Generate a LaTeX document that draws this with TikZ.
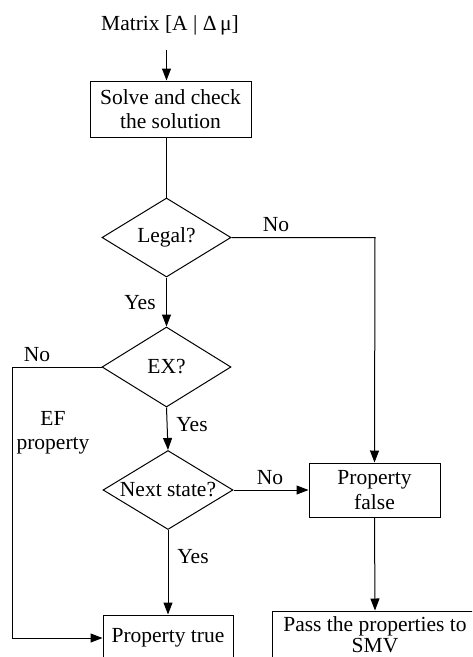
\documentclass[tikz,border=0pt]{standalone}
\usepackage{fontspec}
\setmainfont{Liberation Serif}
\usetikzlibrary{arrows.meta,shapes.geometric}

\tikzset{
  every node/.style={font=\fontsize{21.5}{24.5}\selectfont, inner sep=0pt},
  proc/.style={draw, line width=1pt, rectangle, align=center},
  decide/.style={draw, line width=1pt, diamond, inner sep=0pt},
  flow/.style={line width=1pt, -{Triangle[length=12pt,width=9pt]}},
  plain/.style={line width=1pt},
  lbl/.style={align=center}
}

\begin{document}
\begin{tikzpicture}[x=1pt, y=-1pt]
  \path[use as bounding box, clip] (0,0) rectangle (472,657);

  % input and first process
  \node (mat) at (170,25) {Matrix [A | Δ\,μ]};
  \node[proc, minimum width=161pt, minimum height=56pt] (solve) at (170.5,109)
    {Solve and check\\the solution};

  % decisions
  \node[decide, minimum width=129pt, minimum height=79pt,
        label={center:Legal?}] (legal) at (166.5,237.5) {};
  \node[decide, minimum width=129pt, minimum height=80pt,
        label={center:EX?}] (ex) at (166.5,367) {};
  \node[decide, minimum width=130pt, minimum height=79pt,
        label={center:Next state?}] (next) at (168,490) {};

  % results
  \node[proc, minimum width=131pt, minimum height=54pt] (pfalse) at (374.5,490)
    {Property\\false};
  \node[proc, minimum width=206pt, minimum height=48pt,
        font=\fontsize{21.5}{21}\selectfont] (pass) at (375,635)
    {Pass the properties to\\SMV};
  \node[proc, minimum width=130pt, minimum height=46pt] (ptrue) at (168,638)
    {Property true};

  % helper points for the input arrow and the bent connectors
  \coordinate (mtop) at (166.5,50);
  \coordinate (cLegal) at (375,237.5);
  \coordinate (cExTop) at (12,367);
  \coordinate (cExBot) at (12,638);

  % connectors
  \draw[flow] (mtop) -- (solve.north -| mtop);
  \draw[plain] (solve.south -| legal.north) -- (legal.north);
  \draw[flow] (legal.south) -- (ex.north);
  \draw[flow] (ex.south) -- (next.north);
  \draw[flow] (next.south) -- (ptrue.north);
  \draw[flow] (next.east) -- (pfalse.west);
  \draw[flow] (legal.east) -- (cLegal) -- (pfalse.north);
  \draw[flow] (pfalse.south) -- (pass.north);
  \draw[flow] (ex.west) -- (cExTop) -- (cExBot) -- (ptrue.west);

  % branch labels
  \node (noLegal) at (276,225) {No};
  \node (yesLegal) at (140,303) {Yes};
  \node (noEx) at (37,355) {No};
  \node[lbl] (ef) at (53,433) {EF\\property};
  \node (yesEx) at (192,425) {Yes};
  \node (noNext) at (270,478) {No};
  \node (yesNext) at (193,557) {Yes};
\end{tikzpicture}
\end{document}
